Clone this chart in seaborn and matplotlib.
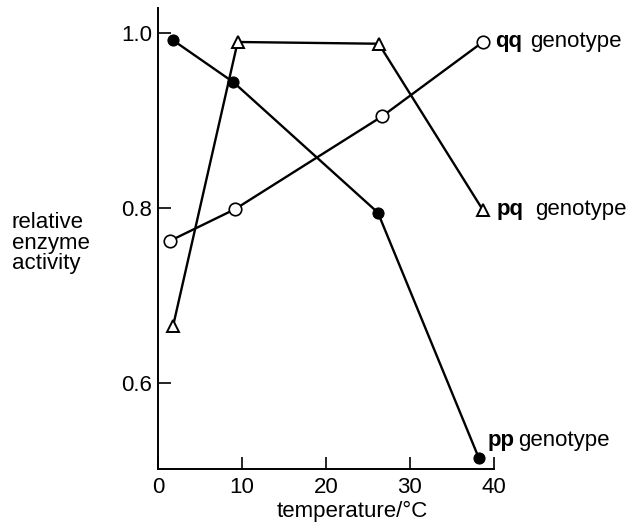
import numpy as np
import pandas as pd
import seaborn as sns
import matplotlib.pyplot as plt

# %% Data
temp_pp = [1.8, 9.0, 26.2, 38.2]
act_pp = [0.992, 0.944, 0.795, 0.515]
temp_pq = [1.8, 9.5, 26.3, 38.7]
act_pq = [0.665, 0.990, 0.988, 0.798]
temp_qq = [1.5, 9.2, 26.7, 38.7]
act_qq = [0.763, 0.799, 0.905, 0.990]
x_ticks = [0, 10, 20, 30, 40]
y_ticks = [0.6, 0.8, 1.0]

# %% Plot
sns.set_style("ticks")
plt.rcParams['font.family'] = ['Liberation Sans', 'DejaVu Sans']
plt.rcParams['text.color'] = 'k'
fs = 16

fig = plt.figure(figsize=(6.29, 5.24), dpi=100)
ax = fig.add_axes([0.251, 0.105, 0.534, 0.880])

sns.lineplot(x=temp_pp, y=act_pp, ax=ax, color='k', linewidth=1.7,
             marker='o', markersize=8, markerfacecolor='k',
             markeredgecolor='k', sort=False)
sns.lineplot(x=temp_pq, y=act_pq, ax=ax, color='k', linewidth=1.7,
             marker='^', markersize=8, markerfacecolor='white',
             markeredgecolor='k', markeredgewidth=1.4, sort=False)
sns.lineplot(x=temp_qq, y=act_qq, ax=ax, color='k', linewidth=1.7,
             marker='o', markersize=9, markerfacecolor='white',
             markeredgecolor='k', markeredgewidth=1.2, sort=False)

ax.set_xlim(0, 40)
ax.set_ylim(0.502, 1.029)
ax.set_xticks(x_ticks)
ax.set_yticks(y_ticks)
ax.set_xticklabels([str(t) for t in x_ticks], fontsize=fs)
ax.set_yticklabels([f"{t:.1f}" for t in y_ticks], fontsize=fs)
ax.tick_params(direction='in', length=9, width=1.2, pad=6, colors='k',
               labelcolor='k')
ax.tick_params(axis='y', pad=4)
sns.despine(ax=ax)
for s in ['left', 'bottom']:
    ax.spines[s].set_linewidth(1.4)
    ax.spines[s].set_color('k')

ax.set_xlabel('temperature/°C', fontsize=fs, color='k')
ax.xaxis.set_label_coords(0.58, -0.07)
ax.set_ylabel('relative\nenzyme\nactivity', fontsize=fs, rotation=0,
              ha='left', va='center', linespacing=0.95, color='k')
ax.yaxis.set_label_coords(-0.435, 0.49)

# series labels next to their last points
labels = [("qq", temp_qq[-1], act_qq[-1], 12, 0, 47),
          ("pq", temp_pq[-1], act_pq[-1], 14, 0, 52),
          ("pp", temp_pp[-1], act_pp[-1], 9, 17, 39)]
for name, xv, yv, dx, dy, dg in labels:
    ax.annotate(name, xy=(xv, yv), xytext=(dx, dy), textcoords='offset pixels',
                fontsize=fs, fontweight='bold', va='center', ha='left',
                annotation_clip=False)
    ax.annotate('genotype', xy=(xv, yv), xytext=(dg, dy),
                textcoords='offset pixels', fontsize=fs, va='center',
                ha='left', annotation_clip=False)

plt.savefig("out.png", dpi=100)
plt.close()
